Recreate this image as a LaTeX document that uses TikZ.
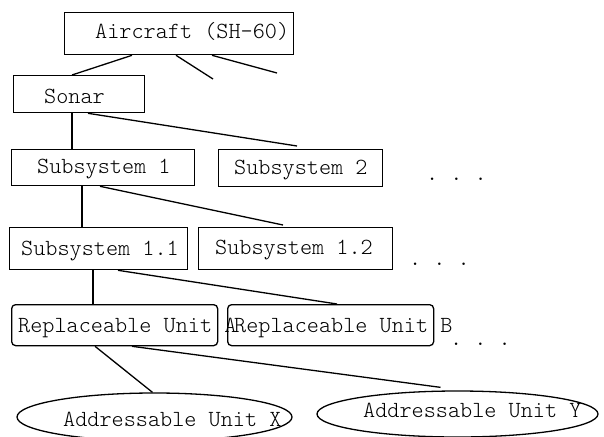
\documentclass[tikz,border=0pt]{standalone}
\usepackage{fontspec}
\setmonofont{Latin Modern Mono Light}
\usetikzlibrary{shapes.geometric}
\frenchspacing
\tikzset{
  box/.style={draw, line width=1.3pt, inner sep=0pt, anchor=north west},
  rbox/.style={box, rounded corners=4pt},
  oval/.style={draw, ellipse, line width=1.3pt, inner sep=0pt},
  lbl/.style={font=\ttfamily\fontsize{23.1}{26}\selectfont, inner sep=0pt, anchor=base west},
  conn/.style={line width=1.3pt}
}
\begin{document}
\begin{tikzpicture}[x=1pt,y=-1pt]
\useasboundingbox (0,0) rectangle (604,436);
% boxes
\node[box, minimum width=229pt, minimum height=42pt] (air) at (64,12) {};
\node[box, minimum width=131pt, minimum height=37pt] (sonar) at (13,75) {};
\node[box, minimum width=183pt, minimum height=36pt] (s1) at (11,149) {};
\node[box, minimum width=164pt, minimum height=37pt] (s2) at (218,149) {};
\node[box, minimum width=178pt, minimum height=42pt] (s11) at (9,227) {};
\node[box, minimum width=194pt, minimum height=42pt] (s12) at (198,227) {};
\node[rbox, minimum width=206pt, minimum height=41pt] (ruA) at (11,304) {};
\node[rbox, minimum width=206pt, minimum height=41pt] (ruB) at (227,304) {};
\node[oval, minimum width=275pt, minimum height=48pt] (elX) at (154.5,417) {};
\node[oval, minimum width=281pt, minimum height=46pt] (elY) at (457.5,414) {};
% texts
\node[lbl] (tair) at (95,38) {Aircraft (SH-60)};
\node[lbl] (tsonar) at (44,103) {Sonar};
\node[lbl] (ts1) at (37,173) {Subsystem 1};
\node[lbl] (ts2) at (234,174) {Subsystem 2};
\node[lbl] (ts11) at (21,255) {Subsystem 1.1};
\node[lbl] (ts12) at (215,254) {Subsystem 1.2};
\node[lbl] (truA) at (18,332) {Replaceable Unit A};
\node[lbl] (truB) at (234,332) {Replaceable Unit B};
\node[lbl] (tX) at (63,426) {Addressable Unit X};
\node[lbl] (tY) at (363,417) {Addressable Unit Y};
\node[lbl] (d1) at (426,180) {. . .};
\node[lbl] (d2) at (409,265) {. . .};
\node[lbl] (d3) at (450,345) {. . .};
% free ends
\coordinate (f1) at (213,79);
\coordinate (f2) at (277,73);
% connectors
\draw[conn] ([xshift=68pt]air.south west) -- ([xshift=59pt]sonar.north west);
\draw[conn] ([xshift=112pt]air.south west) -- (f1);
\draw[conn] ([xshift=148pt]air.south west) -- (f2);
\draw[conn] ([xshift=59pt]sonar.south west) -- ([xshift=61pt]s1.north west);
\draw[conn] ([xshift=75pt]sonar.south west) -- ([xshift=79pt,yshift=3pt]s2.north west);
\draw[conn] ([xshift=71pt]s1.south west) -- ([xshift=73pt]s11.north west);
\draw[conn] ([xshift=89pt]s1.south west) -- ([xshift=85pt,yshift=2pt]s12.north west);
\draw[conn] ([xshift=84pt]s11.south west) -- ([xshift=82pt]ruA.north west);
\draw[conn] ([xshift=109pt]s11.south west) -- ([xshift=110pt]ruB.north west);
\draw[conn] ([xshift=84pt]ruA.south west) -- ([xshift=-2pt]elX.north);
\draw[conn] ([xshift=121pt]ruA.south west) -- ([xshift=-17pt,yshift=3pt]elY.north);
\end{tikzpicture}
\end{document}
